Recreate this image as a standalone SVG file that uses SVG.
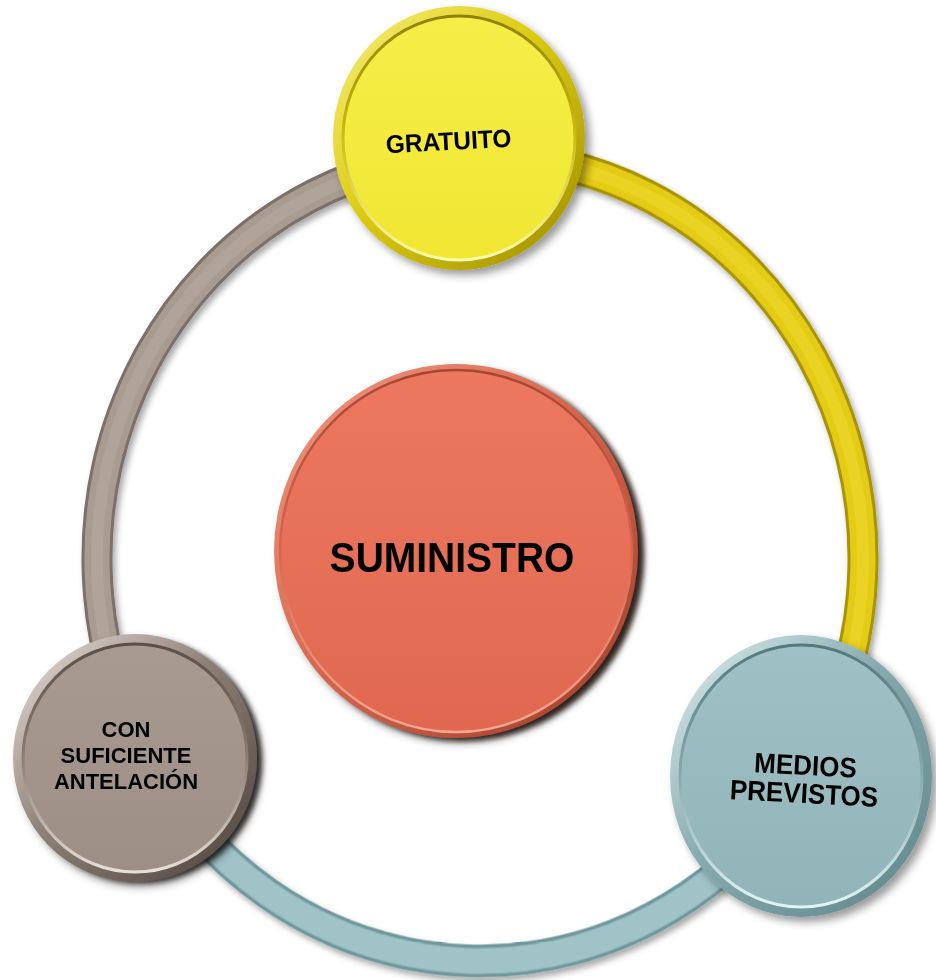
<svg xmlns="http://www.w3.org/2000/svg" xmlns:xlink="http://www.w3.org/1999/xlink" width="936" height="980" viewBox="0 0 936 980">
  <style>
    .lbl { font-family: "Liberation Sans", Arial, sans-serif; font-weight: bold; fill: #000; text-anchor: middle; }
    .band { fill: none; stroke-linecap: butt; }
    .edgeY { stroke: #a89300; stroke-width: 31; }
    .fillY { stroke: #e3cb12; stroke-width: 25; }
    .lineY { stroke: #efd92a; stroke-width: 12; opacity: 0.6; }
    .edgeT { stroke: #6f979c; stroke-width: 31; }
    .fillT { stroke: #93b8bc; stroke-width: 25; }
    .lineT { stroke: #c9e3e6; stroke-width: 23; opacity: 0.25; }
    .edgeG { stroke: #7c6f67; stroke-width: 31; }
    .fillG { stroke: #a89c92; stroke-width: 25; }
    .lineG { stroke: #b5aaa1; stroke-width: 12; opacity: 0.5; }
  </style>
  <defs>
    <filter id="arcShadow" x="-20%" y="-20%" width="140%" height="140%">
      <feDropShadow dx="3" dy="4" stdDeviation="3" flood-color="#000" flood-opacity="0.35"/>
    </filter>
    <filter id="nodeShadow" x="-20%" y="-20%" width="140%" height="140%">
      <feDropShadow dx="5" dy="5" stdDeviation="4" flood-color="#000" flood-opacity="0.4"/>
    </filter>
    <filter id="soft" x="-10%" y="-10%" width="120%" height="120%">
      <feGaussianBlur stdDeviation="2.5"/>
    </filter>

    <!-- ring segments, drawn in the ring's own (unscaled) frame -->
    <path id="arcYellow" d="M -20,-382.5 A 383 383 0 0 1 321.2,208.6"/>
    <path id="arcTeal" d="M 321.2,208.6 A 383 383 0 0 1 -335,185.7"/>
    <path id="arcGray" d="M -335,185.7 A 383 383 0 0 1 -20,-382.5"/>

    <!-- bevel rims -->
    <linearGradient id="rimY" x1="0" y1="0" x2="1" y2="1">
      <stop offset="0" stop-color="#f7f080"/>
      <stop offset="0.45" stop-color="#dccb10"/>
      <stop offset="1" stop-color="#9c8b00"/>
    </linearGradient>
    <linearGradient id="rimC" x1="0" y1="0" x2="1" y2="1">
      <stop offset="0" stop-color="#f29a84"/>
      <stop offset="0.5" stop-color="#d4634b"/>
      <stop offset="1" stop-color="#9a3f2b"/>
    </linearGradient>
    <linearGradient id="rimT" x1="0" y1="0" x2="1" y2="1">
      <stop offset="0" stop-color="#e2f1f2"/>
      <stop offset="0.45" stop-color="#86aaae"/>
      <stop offset="1" stop-color="#5f8589"/>
    </linearGradient>
    <linearGradient id="rimB" x1="0" y1="0" x2="1" y2="1">
      <stop offset="0" stop-color="#ece5df"/>
      <stop offset="0.45" stop-color="#8e8178"/>
      <stop offset="1" stop-color="#4a403a"/>
    </linearGradient>

    <!-- faces -->
    <linearGradient id="faceY" x1="0" y1="0" x2="0" y2="1">
      <stop offset="0" stop-color="#f6ee48"/>
      <stop offset="1" stop-color="#f1e632"/>
    </linearGradient>
    <linearGradient id="faceC" x1="0" y1="0" x2="0" y2="1">
      <stop offset="0" stop-color="#ec7860"/>
      <stop offset="1" stop-color="#e06850"/>
    </linearGradient>
    <linearGradient id="faceT" x1="0" y1="0" x2="0" y2="1">
      <stop offset="0" stop-color="#9fc1c5"/>
      <stop offset="1" stop-color="#91b4b8"/>
    </linearGradient>
    <linearGradient id="faceB" x1="0" y1="0" x2="0" y2="1">
      <stop offset="0" stop-color="#a89a90"/>
      <stop offset="1" stop-color="#9d8f86"/>
    </linearGradient>

    <!-- inner lip: dark at the top, light at the bottom -->
    <linearGradient id="lipY" x1="0" y1="0" x2="0" y2="1">
      <stop offset="0" stop-color="#8f8000"/>
      <stop offset="0.5" stop-color="#cdbd10"/>
      <stop offset="1" stop-color="#fffbb0"/>
    </linearGradient>
    <linearGradient id="lipC" x1="0" y1="0" x2="0" y2="1">
      <stop offset="0" stop-color="#a9452f"/>
      <stop offset="0.5" stop-color="#d8664e"/>
      <stop offset="1" stop-color="#f7a790"/>
    </linearGradient>
    <linearGradient id="lipT" x1="0" y1="0" x2="0" y2="1">
      <stop offset="0" stop-color="#55787c"/>
      <stop offset="0.5" stop-color="#86aaae"/>
      <stop offset="1" stop-color="#e4f4f5"/>
    </linearGradient>
    <linearGradient id="lipB" x1="0" y1="0" x2="0" y2="1">
      <stop offset="0" stop-color="#5a4f48"/>
      <stop offset="0.5" stop-color="#8a7d74"/>
      <stop offset="1" stop-color="#e8e0da"/>
    </linearGradient>
  </defs>

  <rect width="936" height="980" fill="#ffffff"/>

  <!-- connecting ring, split into three coloured segments -->
  <g id="connectors" filter="url(#arcShadow)">
    <g transform="translate(480,558) scale(1,1.052)">
      <use xlink:href="#arcGray" class="band edgeG"/>
      <use xlink:href="#arcGray" class="band fillG"/>
      <use xlink:href="#arcGray" class="band lineG"/>
      <use xlink:href="#arcTeal" class="band edgeT"/>
      <use xlink:href="#arcTeal" class="band fillT"/>
      <use xlink:href="#arcTeal" class="band lineT"/>
      <use xlink:href="#arcYellow" class="band edgeY"/>
      <use xlink:href="#arcYellow" class="band fillY"/>
      <use xlink:href="#arcYellow" class="band lineY"/>
    </g>
  </g>

  <!-- centre -->
  <g id="node-suministro">
    <ellipse cx="463" cy="555" rx="181" ry="186" fill="#2a1208" opacity="0.85" filter="url(#soft)"/>
    <ellipse cx="456" cy="551" rx="182" ry="187" fill="url(#rimC)" filter="url(#nodeShadow)"/>
    <ellipse cx="456" cy="551" rx="176" ry="181" fill="url(#faceC)" stroke="url(#lipC)" stroke-width="2.5"/>
    <g transform="translate(452,572) scale(1,1.07)">
      <text class="lbl" x="0" y="0" font-size="39">SUMINISTRO</text>
    </g>
  </g>

  <!-- top -->
  <g id="node-gratuito">
    <ellipse cx="459" cy="138" rx="126" ry="132" fill="url(#rimY)" filter="url(#nodeShadow)"/>
    <ellipse cx="459" cy="138" rx="116" ry="122" fill="url(#faceY)" stroke="url(#lipY)" stroke-width="3"/>
    <g transform="translate(449,150) rotate(-3) scale(1,1.04)">
      <text class="lbl" x="0" y="0" font-size="24.5">GRATUITO</text>
    </g>
  </g>

  <!-- lower right -->
  <g id="node-medios">
    <ellipse cx="801" cy="776" rx="131" ry="141" fill="url(#rimT)" filter="url(#nodeShadow)"/>
    <ellipse cx="801" cy="776" rx="121" ry="131" fill="url(#faceT)" stroke="url(#lipT)" stroke-width="3"/>
    <g transform="translate(805,775) rotate(3) scale(1,1.08)">
      <text class="lbl" x="0" y="0" font-size="26">MEDIOS</text>
      <text class="lbl" x="0" y="26" font-size="26">PREVISTOS</text>
    </g>
  </g>

  <!-- lower left -->
  <g id="node-antelacion">
    <ellipse cx="141" cy="761" rx="121" ry="122" fill="#1e1814" opacity="0.8" filter="url(#soft)"/>
    <ellipse cx="135" cy="758" rx="122" ry="124" fill="url(#rimB)" filter="url(#nodeShadow)"/>
    <ellipse cx="135" cy="758" rx="112" ry="114" fill="url(#faceB)" stroke="url(#lipB)" stroke-width="3"/>
    <text class="lbl" x="126" y="737" font-size="22">CON</text>
    <text class="lbl" x="126" y="763" font-size="22">SUFICIENTE</text>
    <text class="lbl" x="126" y="789" font-size="22">ANTELACIÓN</text>
  </g>
</svg>
